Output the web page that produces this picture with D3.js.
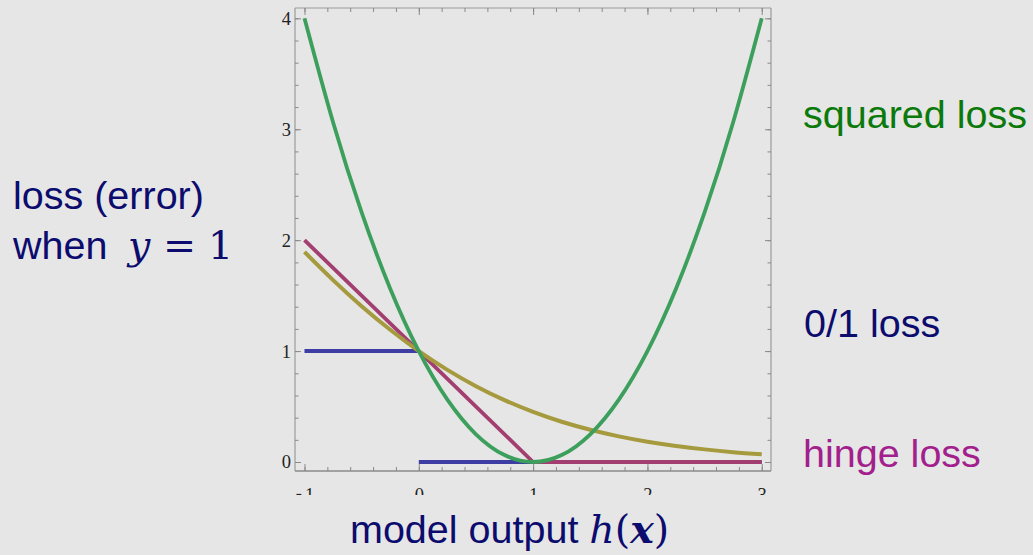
<!DOCTYPE html>
<html>
<head>
<meta charset="utf-8">
<script src="https://cdn.jsdelivr.net/npm/d3@7"></script>
<style>
  html, body { margin: 0; padding: 0; background: #e6e6e6; }
  svg { display: block; }
  .tick text { font-family: "Liberation Serif", serif; font-size: 18.5px; fill: #222; }
  .tick line { stroke: #8a8a8a; stroke-width: 1; }
</style>
</head>
<body>
<svg id="chart" width="1033" height="555"></svg>
<script>
// ---- data ----
const xSamples     = [-1, -0.75, -0.5, -0.25, 0, 0.25, 0.5, 0.75, 1, 1.25, 1.5, 1.75, 2, 2.25, 2.5, 2.75, 3];
const squaredLoss  = [4, 3.0625, 2.25, 1.5625, 1, 0.5625, 0.25, 0.0625, 0, 0.0625, 0.25, 0.5625, 1, 1.5625, 2.25, 3.0625, 4];
const logLoss      = [1.894, 1.640, 1.405, 1.192, 1, 0.831, 0.684, 0.558, 0.452, 0.363, 0.291, 0.231, 0.183, 0.145, 0.114, 0.089, 0.070];
const hingeX       = [-1, 1, 3];
const hingeLoss    = [2, 0, 0];
const zeroOneSegs  = [[[-1, 1], [0, 1]], [[0, 0], [3, 0]]];
const xTicks       = [-1, 0, 1, 2, 3];
const xTickLabels  = ["-1", "0", "1", "2", "3"];
const yTicks       = [0, 1, 2, 3, 4];
const minorStep    = 0.2;

const svg = d3.select("#chart");
const W = 1033, H = 555;
svg.append("rect").attr("width", W).attr("height", H).attr("fill", "#e6e6e6");

const frame = {left: 295, right: 771, top: 8, bottom: 471};
const x = d3.scaleLinear().domain([-1.083, 3.081]).range([frame.left, frame.right]);
const y = d3.scaleLinear().domain([-0.081, 4.093]).range([frame.bottom, frame.top]);

const xMinor = d3.range(-1, 3 + 1e-9, minorStep).map(v => +v.toFixed(2));
const yMinor = d3.range(0, 4 + 1e-9, minorStep).map(v => +v.toFixed(2));

// clip for bottom tick labels (they are cut in the reference)
const defs = svg.append("defs");
defs.append("clipPath").attr("id", "xlabclip")
  .append("rect").attr("x", 0).attr("y", 0).attr("width", W).attr("height", 495);

// frame
const g = svg.append("g");
g.append("line").attr("x1", frame.left).attr("x2", frame.left).attr("y1", frame.top).attr("y2", frame.bottom)
  .attr("stroke", "#b9b9b9").attr("stroke-width", 2);
g.append("line").attr("x1", frame.left).attr("x2", frame.right).attr("y1", frame.bottom).attr("y2", frame.bottom)
  .attr("stroke", "#8a8a8a").attr("stroke-width", 1.5);
g.append("line").attr("x1", frame.left).attr("x2", frame.right).attr("y1", frame.top).attr("y2", frame.top)
  .attr("stroke", "#9a9a9a").attr("stroke-width", 1.2);
g.append("line").attr("x1", frame.right).attr("x2", frame.right).attr("y1", frame.top).attr("y2", frame.bottom)
  .attr("stroke", "#9a9a9a").attr("stroke-width", 1.2);

function axisGroup(axis, tx, ty) {
  const a = g.append("g").attr("transform", `translate(${tx},${ty})`).call(axis);
  a.select(".domain").remove();
  return a;
}
// minor ticks
axisGroup(d3.axisLeft(y).tickValues(yMinor).tickSize(-3.5).tickFormat(""), frame.left, 0);
axisGroup(d3.axisRight(y).tickValues(yMinor).tickSize(-3.5).tickFormat(""), frame.right, 0);
axisGroup(d3.axisBottom(x).tickValues(xMinor).tickSize(-4).tickFormat(""), 0, frame.bottom);
axisGroup(d3.axisTop(x).tickValues(xMinor).tickSize(-4).tickFormat(""), 0, frame.top);
// major ticks with labels
axisGroup(d3.axisLeft(y).tickValues(yTicks).tickSize(-6).tickPadding(4).tickFormat(d3.format("d")), frame.left, 0);
axisGroup(d3.axisRight(y).tickValues(yTicks).tickSize(-6).tickFormat(""), frame.right, 0);
const xb = g.append("g").attr("clip-path", "url(#xlabclip)");
const xa = xb.append("g").attr("transform", `translate(0,${frame.bottom})`)
  .call(d3.axisBottom(x).tickValues(xTicks).tickSize(-7).tickPadding(0).tickFormat((d, i) => xTickLabels[i]));
xa.select(".domain").remove();
xa.selectAll("text").attr("y", 30).attr("dy", 0);
// the negative label: raised minus with a gap, as in the reference
xa.selectAll(".tick").filter(d => d < 0).select("text").each(function () {
  const t = d3.select(this);
  const s = t.text();
  t.text("");
  t.append("tspan").attr("dy", -2).text(s[0]);
  t.append("tspan").attr("dx", 3).attr("dy", 2).text(s.slice(1));
});
axisGroup(d3.axisTop(x).tickValues(xTicks).tickSize(-7).tickFormat(""), 0, frame.top);

// curves
const plot = svg.append("g");
const lineGen = d3.line().x(d => x(d[0])).y(d => y(d[1]));
const smooth = d3.line().x(d => x(d[0])).y(d => y(d[1])).curve(d3.curveNatural);

zeroOneSegs.forEach(seg => {
  plot.append("path").attr("d", lineGen(seg)).attr("fill", "none")
    .attr("stroke", "#3d3da3").attr("stroke-width", 4);
});
plot.append("path").attr("d", lineGen(hingeX.map((v, i) => [v, hingeLoss[i]])))
  .attr("fill", "none").attr("stroke", "#a33f70").attr("stroke-width", 3.8);
plot.append("path").attr("d", smooth(xSamples.map((v, i) => [v, logLoss[i]])))
  .attr("fill", "none").attr("stroke", "#a69a3e").attr("stroke-width", 4);
plot.append("path").attr("d", smooth(xSamples.map((v, i) => [v, squaredLoss[i]])))
  .attr("fill", "none").attr("stroke", "#3c9f5c").attr("stroke-width", 3.8);

// text labels
const sans = "'Liberation Sans', Arial, sans-serif";
const serif = "'DejaVu Serif', 'Liberation Serif', serif";
const navy = "#0c0c6e";
const fs = 39.5;
svg.append("text").attr("x", 803).attr("y", 128).attr("font-family", sans).attr("font-size", fs)
  .attr("fill", "#0b7a0b").text("squared loss");
svg.append("text").attr("x", 804).attr("y", 337).attr("font-family", sans).attr("font-size", fs)
  .attr("fill", navy).text("0/1 loss");
svg.append("text").attr("x", 803).attr("y", 467).attr("font-family", sans).attr("font-size", fs)
  .attr("fill", "#a21f8d").text("hinge loss");

svg.append("text").attr("x", 13).attr("y", 209).attr("font-family", sans).attr("font-size", fs)
  .attr("fill", navy).text("loss (error)");
const w = svg.append("text").attr("x", 13).attr("y", 259).attr("font-family", sans).attr("font-size", fs)
  .attr("fill", navy);
w.append("tspan").text("when");
w.append("tspan").attr("x", 128).attr("font-family", serif).attr("font-style", "italic").text("y");
w.append("tspan").attr("x", 163).attr("font-family", serif).text("=");
w.append("tspan").attr("x", 208).attr("font-family", serif).text("1");

const m = svg.append("text").attr("x", 350).attr("y", 543).attr("font-family", sans).attr("font-size", fs)
  .attr("fill", navy);
m.append("tspan").text("model output ");
m.append("tspan").attr("font-family", serif).attr("font-style", "italic").text("h");
m.append("tspan").attr("font-family", serif).text("(");
m.append("tspan").attr("font-family", serif).attr("font-style", "italic").attr("font-weight", "bold").text("x");
m.append("tspan").attr("font-family", serif).text(")");
</script>
</body>
</html>
